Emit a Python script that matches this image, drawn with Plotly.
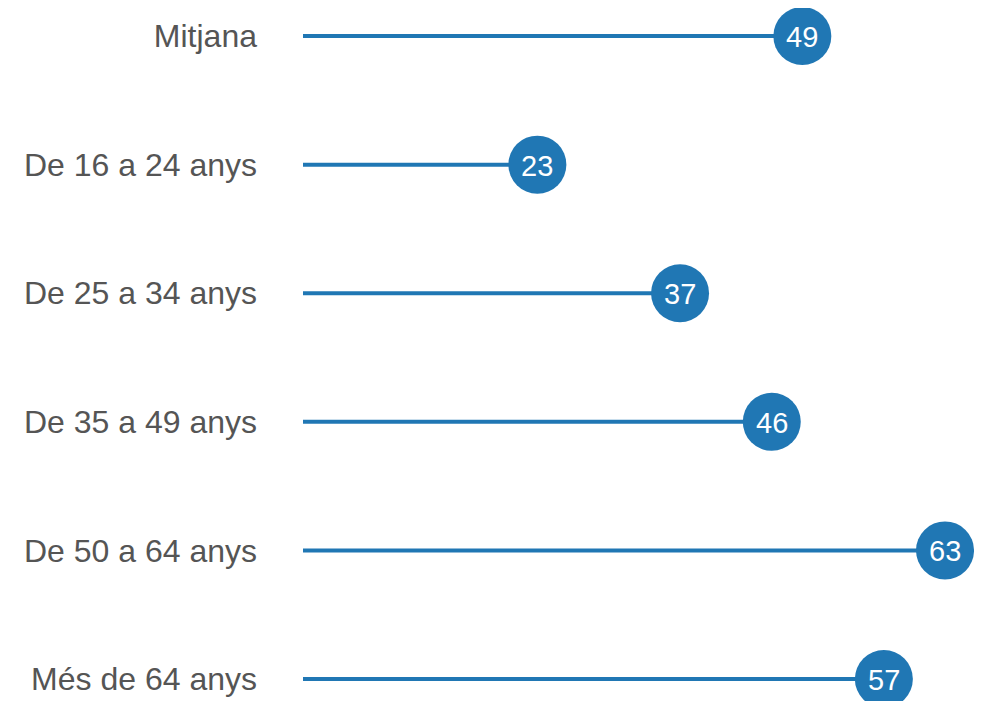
import plotly.graph_objects as go

categories = ["Mitjana", "De 16 a 24 anys", "De 25 a 34 anys", "De 35 a 49 anys",
              "De 50 a 64 anys", "Més de 64 anys"]
values = [49, 23, 37, 46, 63, 57]

blue = "#2077b4"
positions = list(range(len(categories)))

fig = go.Figure()

# stems
for pos, val in zip(positions, values):
    fig.add_trace(go.Scatter(
        x=[0, val], y=[pos, pos], mode="lines",
        line=dict(color=blue, width=4), hoverinfo="skip", showlegend=False))

# heads
fig.add_trace(go.Scatter(
    x=values, y=positions, mode="markers",
    marker=dict(color=blue, size=58, line=dict(width=0)),
    showlegend=False, cliponaxis=False))

# value labels inside the heads
for pos, val in zip(positions, values):
    fig.add_annotation(x=val, y=pos, text=str(val), showarrow=False,
                       yshift=-1,
                       font=dict(family="Liberation Sans, Arial", size=29, color="white"))

fig.update_layout(
    width=974, height=693,
    margin=dict(l=295, r=0, t=0, b=0),
    plot_bgcolor="white", paper_bgcolor="white",
    xaxis=dict(range=[0, 66.63], visible=False, fixedrange=True),
    yaxis=dict(range=[5.171, -0.218], tickvals=positions, ticktext=categories,
               showgrid=False, zeroline=False, showline=False,
               ticks="", ticklabelstandoff=45,
               tickfont=dict(family="Liberation Sans, Arial", size=32, color="#555555")),
)

fig.write_html("out.html")
